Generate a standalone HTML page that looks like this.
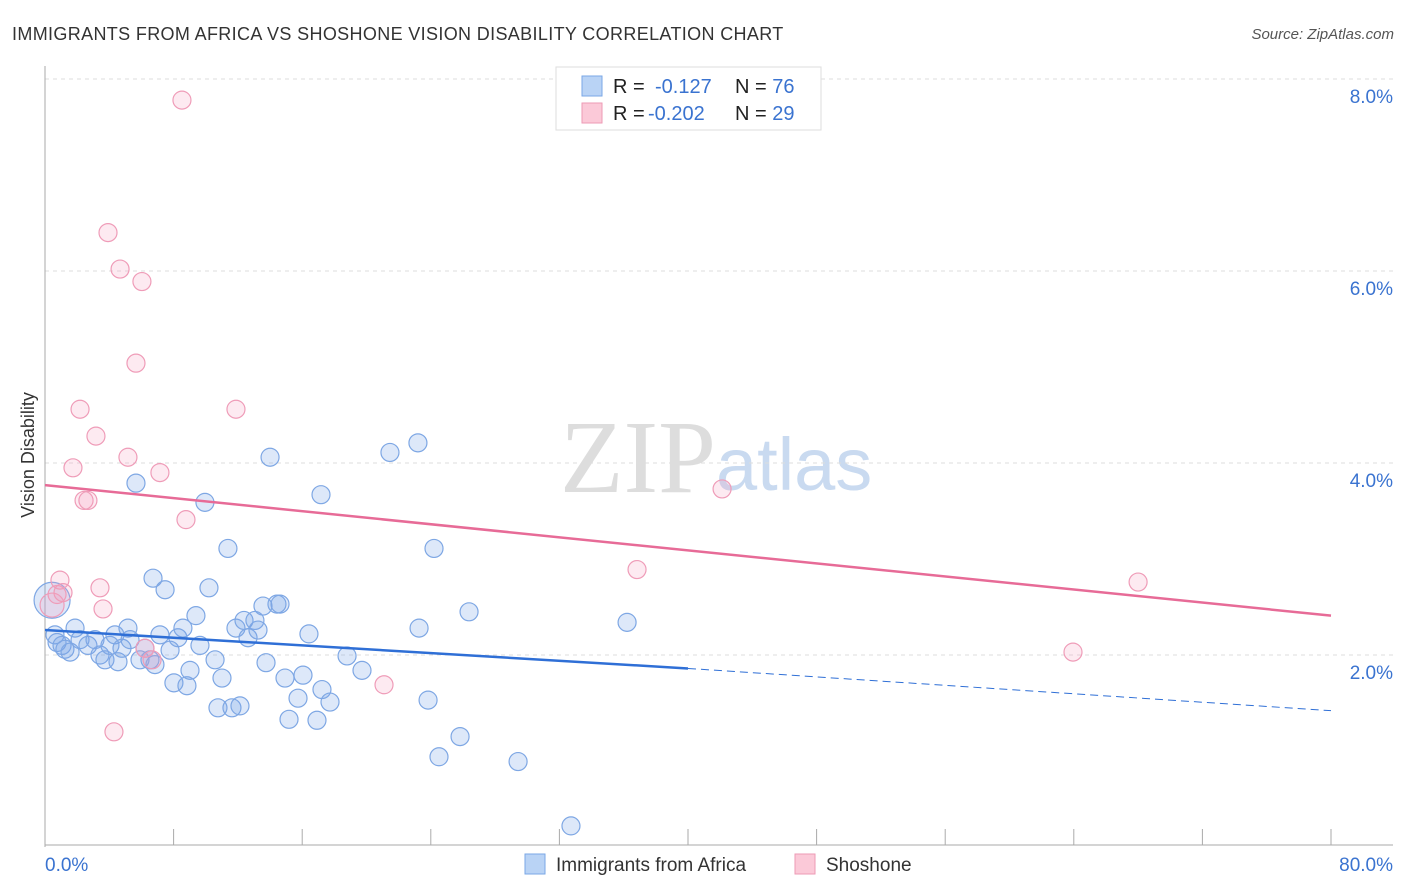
<!DOCTYPE html>
<html><head><meta charset="utf-8"><style>
body{margin:0;background:#fff;font-family:"Liberation Sans",sans-serif;}
svg{display:block}
</style></head><body>
<svg id="chart" width="1406" height="892">
<text x="12" y="40" font-size="18" fill="#333" letter-spacing="0.35">IMMIGRANTS FROM AFRICA VS SHOSHONE VISION DISABILITY CORRELATION CHART</text>
<text x="1394" y="39" font-size="15" fill="#555" font-style="italic" text-anchor="end">Source: ZipAtlas.com</text>
<text x="716" y="492" font-size="104" fill="#ddd" font-family="Liberation Serif,serif" text-anchor="end">ZIP</text>
<text x="716" y="490" font-size="74" fill="#c9daf0">atlas</text>
<text transform="translate(34,455) rotate(-90)" font-size="18" fill="#333" text-anchor="middle">Vision Disability</text>
<g id="grid"></g><g id="axes"></g><g id="marks"></g><g id="trends"></g>
<g>
<rect x="556" y="67" width="265" height="63" fill="#fff" stroke="#ddd"/>
<rect x="582" y="76" width="20" height="20" fill="#b9d3f5" stroke="#7aa7e6"/>
<rect x="582" y="103" width="20" height="20" fill="#fbc9d8" stroke="#ee9ab5"/>
<text x="613" y="93" font-size="20" fill="#222">R = <tspan x="655" fill="#3a73d0">-0.127</tspan><tspan x="735">N = </tspan><tspan fill="#3a73d0">76</tspan></text>
<text x="613" y="120" font-size="20" fill="#222">R = <tspan x="648" fill="#3a73d0">-0.202</tspan><tspan x="735">N = </tspan><tspan fill="#3a73d0">29</tspan></text>
</g>
<g>
<rect x="525" y="854" width="20" height="20" fill="#b9d3f5" stroke="#7aa7e6"/>
<text x="556" y="871" font-size="19" fill="#333">Immigrants from Africa</text>
<rect x="795" y="854" width="20" height="20" fill="#fbc9d8" stroke="#ee9ab5"/>
<text x="826" y="871" font-size="19" fill="#333">Shoshone</text>
</g>
</svg>
<script>
const yTicks=[2,4,6,8];
const yTickLabels=["2.0%","4.0%","6.0%","8.0%"];
const xEndLabels=["0.0%","80.0%"];
const africaX=[0.44,0.62,0.75,1.06,1.24,1.56,1.87,2.18,2.67,3.11,3.42,3.73,4.04,4.35,4.54,4.79,5.16,5.29,5.66,5.91,6.22,6.53,6.84,6.72,7.15,7.47,7.78,8.02,8.27,8.58,8.83,9.02,9.39,9.64,9.95,10.20,10.58,10.76,11.01,11.38,11.63,11.88,12.13,12.38,12.63,13.06,13.25,13.56,13.75,14.00,14.43,14.62,14.93,15.18,15.74,16.05,16.42,16.92,17.17,17.23,17.73,18.79,19.72,21.46,23.20,23.27,23.83,24.20,24.51,25.82,26.38,29.43,32.72,36.21];
const africaY=[2.57,2.21,2.13,2.10,2.06,2.03,2.28,2.16,2.10,2.16,2.00,1.95,2.10,2.21,1.93,2.07,2.28,2.16,3.79,1.95,2.07,1.95,1.90,2.80,2.21,2.68,2.05,1.71,2.18,2.28,1.68,1.84,2.41,2.10,3.59,2.70,1.95,1.45,1.76,3.11,1.45,2.28,1.47,2.36,2.18,2.36,2.26,2.51,1.92,4.06,2.53,2.53,1.76,1.33,1.55,1.79,2.22,1.32,3.67,1.64,1.51,1.99,1.84,4.11,4.21,2.28,1.53,3.11,0.94,1.15,2.45,0.89,0.22,2.34];
const shoX=[0.44,0.75,0.93,1.12,1.74,2.18,2.43,2.67,3.17,3.42,3.61,3.92,4.29,4.67,5.16,5.66,6.03,6.22,6.66,7.15,8.52,8.77,11.88,21.09,36.83,42.12,63.95,68.0];
const shoY=[2.52,2.63,2.78,2.65,3.95,4.56,3.61,3.61,4.28,2.70,2.48,6.40,1.20,6.02,4.06,5.04,5.89,2.07,1.95,3.90,7.78,3.41,4.56,1.69,2.89,3.73,2.03,2.76];
const africaTrend=[2.26,1.86,1.42];
const shoTrend=[3.77,2.41];
const NS="http://www.w3.org/2000/svg";
const X=v=>45+v/80*1286, Y=v=>847-v*96;
function mk(t,a,p){const e=document.createElementNS(NS,t);for(const k in a)e.setAttribute(k,a[k]);p.appendChild(e);return e;}
const grid=document.getElementById('grid'),axes=document.getElementById('axes'),marks=document.getElementById('marks'),tr=document.getElementById('trends');
yTicks.forEach((t,i)=>{
 const l=mk('line',{x1:45,x2:1393,y1:Y(t),y2:Y(t),stroke:'#ddd','stroke-dasharray':'4,4'},grid);
 
 
 const tx=mk('text',{x:1393,y:Y(t)+24,'font-size':19,fill:'#3a73d0','text-anchor':'end'},grid);
 tx.textContent=yTickLabels[i];
 
 
});
const ya=mk('line',{x1:45,x2:45,y1:66,y2:847,stroke:'#aaa'},axes);


const xa=mk('line',{x1:45,x2:1393,y1:845,y2:845,stroke:'#aaa'},axes);


for(let v=8;v<=80;v+=8){const t=mk('line',{x1:X(v),x2:X(v),y1:829,y2:845,stroke:'#aaa'},axes);
 
 }
[0,80].forEach((v,i)=>{const t=mk('text',{x:i?1393:45,y:871,'font-size':19,fill:'#3a73d0','text-anchor':i?'end':'start'},axes);t.textContent=xEndLabels[i];
 
 });
africaX.forEach((x,i)=>{const c=mk('circle',{cx:X(x),cy:Y(africaY[i]),r:i==0?18:9,fill:'rgba(120,165,230,0.25)',stroke:'#7ea7e4','stroke-width':1.2},marks);
 
 });
shoX.forEach((x,i)=>{const c=mk('circle',{cx:X(x),cy:Y(shoY[i]),r:i==0?12:9,fill:'rgba(245,160,190,0.22)',stroke:'#ef9cb8','stroke-width':1.2},marks);
 
 });
const b1=mk('line',{x1:X(0),y1:Y(africaTrend[0]),x2:X(40),y2:Y(africaTrend[1]),stroke:'#2f6fd6','stroke-width':2.5},tr);


const b2=mk('line',{x1:X(40),y1:Y(africaTrend[1]),x2:X(80),y2:Y(africaTrend[2]),stroke:'#2f6fd6','stroke-width':1,'stroke-dasharray':'8,5'},tr);


const p1=mk('line',{x1:X(0),y1:Y(shoTrend[0]),x2:X(80),y2:Y(shoTrend[1]),stroke:'#e76b97','stroke-width':2.5},tr);


</script>
</body></html>
